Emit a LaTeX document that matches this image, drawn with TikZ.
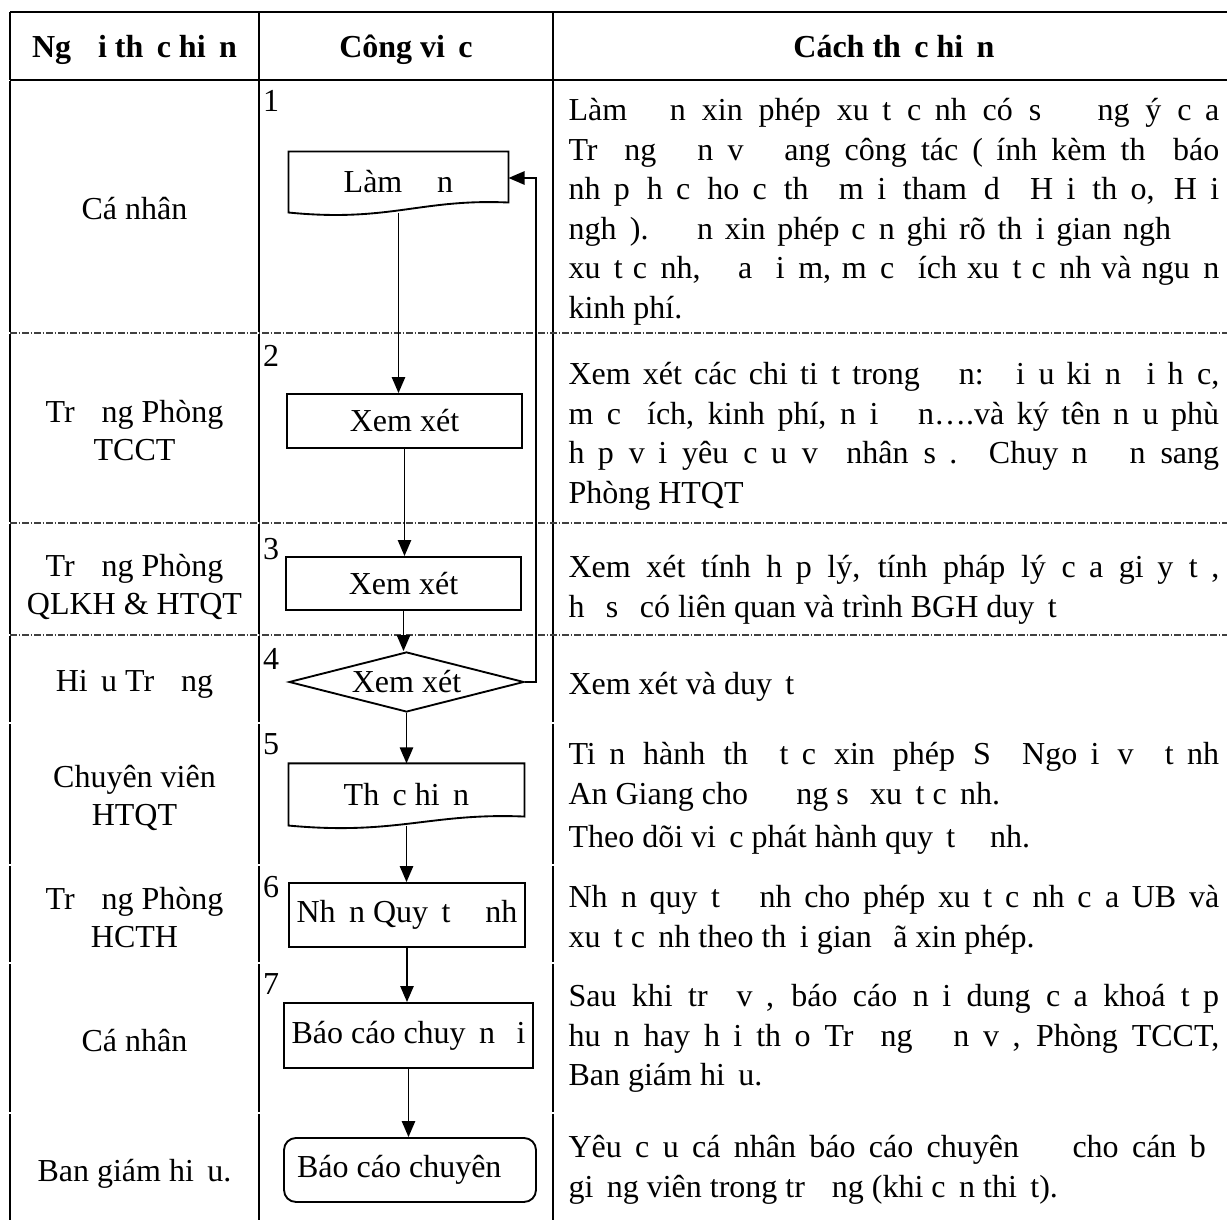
\documentclass[tikz,border=0pt]{standalone}
\usepackage{fontspec}
\setmainfont{Liberation Serif}
\usetikzlibrary{arrows.meta, positioning, calc, shapes.geometric}
\newcommand\miss{\hspace{0.42em}}
\newcommand\jl[2][244pt]{\makebox[#1][s]{\spaceskip=0pt\xspaceskip=0pt #2}}

\begin{document}
\begin{tikzpicture}[x=0.375pt, y=-0.375pt,
  every node/.style={font=\fontsize{12}{14.8}\selectfont},
  hline/.style={line width=1.1pt},
  vline/.style={line width=0.9pt},
  rowsep/.style={line width=0.4pt, black!75, dash pattern=on 2.5pt off 0.7pt on 0.6pt off 0.7pt},
  head/.style={anchor=base, font=\bfseries\fontsize{12}{14}\selectfont},
  who/.style={anchor=base, text width=93pt, align=flush center, inner sep=0, font=\fontsize{12}{14}\selectfont},
  desc/.style={anchor=base west, text width=244pt, align=flush left, inner sep=0},
  numlbl/.style={anchor=base, inner sep=0},
  box/.style={draw, line width=0.7pt, inner sep=0},
  docbox/.style={inner sep=0},
  flow/.style={line width=0.6pt, -{Triangle[length=6pt,width=5pt]}}]
  \useasboundingbox (0,0) rectangle (1227,1221);

  % Header row
  \draw[hline] (10,12) -- (1227,12);
  \draw[hline] (10,80) -- (1227,80);
  \foreach \xx in {10,259,553} {
    \draw[hline] (\xx,12) -- (\xx,80);
  }
  \node[head] (hdA) at (134.5,58) {Ng\miss\miss i th\miss c hi\miss n};
  \node[head] (hdB) at (406,58) {Công vi\miss c};
  \node[head] (hdC) at (894,58) {Cách th\miss c hi\miss n};

  % Column lines and row separators
  \foreach \ya/\yb in {80/333,333/523,523/635,635/723,723/865,865/963,963/1113,1113/1221} {
    \foreach \xx in {10,259,553} {
      \draw[vline] (\xx,\ya+1) -- (\xx,\yb-1);
    }
  }
  \foreach \y in {333,523,635} {
    \draw[rowsep] (10,\y) -- (1227,\y);
  }

  % Who does it
  \node[who] (who1) at (134.5,220) {Cá nhân};
  \node[who] (who2) at (134.5,423) {Tr\miss\miss ng Phòng\\TCCT};
  \node[who] (who3) at (134.5,577) {Tr\miss\miss ng Phòng\\QLKH \& HTQT};
  \node[who] (who4) at (134.5,692) {Hi\miss u Tr\miss\miss ng};
  \node[who] (who5) at (134.5,788) {Chuyên viên\\HTQT};
  \node[who] (who6) at (134.5,910) {Tr\miss\miss ng Phòng\\HCTH};
  \node[who] (who7) at (134.5,1052) {Cá nhân};
  \node[who] (who8) at (134.5,1182) {Ban giám hi\miss u.};

  % Step numbers
  \foreach \n/\y in {1/112,2/367,3/560,4/670,5/755,6/898,7/995} {
    \node[numlbl] (num\n) at (271,\y) {\n};
  }

  % Flow chart
  \node[docbox, minimum width=82.1pt, minimum height=22.5pt] (step1) at (398.5,182) {Làm \miss\miss n};
  \draw[line width=0.7pt] (step1.north west) -- (step1.north east) -- ($(step1.south east)+(0,-10)$)
    .. controls ($(step1.south east)+(-88,-14)$) and ($(step1.south west)+(101,10)$) .. (step1.south west) -- cycle;
  \node[box, minimum width=88.1pt, minimum height=20.25pt] (step2) at (404.5,421) {Xem xét};
  \node[box, minimum width=88.1pt, minimum height=19.9pt] (step3) at (403.5,583.5) {Xem xét};
  \node[box, diamond, aspect=3.9, minimum width=88.1pt, minimum height=22.5pt] (step4) at (406.5,682) {Xem xét};
  \node[docbox, minimum width=88.1pt, minimum height=22.9pt] (step5) at (406.5,794.5) {Th\miss c hi\miss n};
  \draw[line width=0.7pt] (step5.north west) -- (step5.north east) -- ($(step5.south east)+(0,-9)$)
    .. controls ($(step5.south east)+(-94,-13)$) and ($(step5.south west)+(108,10)$) .. (step5.south west) -- cycle;
  \node[box, minimum width=88.5pt, minimum height=24pt] (step6) at (407,915) {Nh\miss n Quy\miss t \miss\miss nh};
  \node[box, minimum width=93.4pt, minimum height=24.4pt] (step7) at (408.5,1035.5) {Báo cáo chuy\miss n \miss i};
  \node[box, rounded corners=4.5pt, minimum width=94.5pt, minimum height=24pt] (step8) at (410,1170) {Báo cáo chuyên \miss\miss};

  % Arrows
  \draw[flow] (step1.south) -- (step1.south |- step2.north);
  \draw[flow] (step2.south) -- (step2.south |- step3.north);
  \draw[flow] (step3.south) -- (step3.south |- step4.north);
  \draw[flow] (step4.south) -- (step4.south |- step5.north);
  \draw[flow] (step5.south) -- (step5.south |- step6.north);
  \draw[flow] (step6.south) -- (step6.south |- step7.north);
  \draw[flow] (step7.south) -- (step7.south |- step8.north);
  \coordinate (fbtop) at (536,178);
  \draw[flow] (step4.east) -| (fbtop) -- (fbtop -| step1.east);

  % How it is done
  \node[desc] (how1) at (568,121) {\jl{Làm \miss\miss n xin phép xu\miss t c\miss nh có s\miss{} \miss\miss ng ý c\miss a}\\
    \jl{Tr\miss\miss ng \miss\miss n v\miss{} \miss ang công tác (\miss ính kèm th\miss{} báo}\\
    \jl{nh\miss p h\miss c ho\miss c th\miss{} m\miss i tham d\miss{} H\miss i th\miss o, H\miss i}\\
    \jl[226pt]{ngh\miss ). \miss\miss n xin phép c\miss n ghi rõ th\miss i gian ngh}\miss\\
    \jl{xu\miss t c\miss nh, \miss\miss a \miss i\miss m, m\miss c \miss ích xu\miss t c\miss nh và ngu\miss n}\\
    kinh phí.};
  \node[desc] (how2) at (568,385) {\jl{Xem xét các chi ti\miss t trong \miss\miss n: \miss i\miss u ki\miss n \miss i h\miss c,}\\
    \jl{m\miss c \miss ích, kinh phí, n\miss i \miss\miss n….và ký tên n\miss u phù}\\
    \jl{h\miss p v\miss i yêu c\miss u v\miss{} nhân s\miss . Chuy\miss n \miss\miss n sang}\\
    Phòng HTQT};
  \node[desc] (how3) at (568,578) {\jl{Xem xét tính h\miss p lý, tính pháp lý c\miss a gi\miss y t\miss ,}\\
    h\miss{} s\miss{} có liên quan và trình BGH duy\miss t};
  \node[desc] (how4) at (568,695) {Xem xét và duy\miss t};
  \node[desc] (how5) at (568,765) {\jl{Ti\miss n hành th\miss{} t\miss c xin phép S\miss{} Ngo\miss i v\miss{} t\miss nh}\\
    An Giang cho \miss\miss\miss ng s\miss{} xu\miss t c\miss nh.\\[1.5pt]
    Theo dõi vi\miss c phát hành quy\miss t \miss\miss nh.};
  \node[desc] (how6) at (568,908) {\jl{Nh\miss n quy\miss t \miss\miss nh cho phép xu\miss t c\miss nh c\miss a UB và}\\
    xu\miss t c\miss nh theo th\miss i gian \miss ã xin phép.};
  \node[desc] (how7) at (568,1007) {\jl{Sau khi tr\miss{} v\miss , báo cáo n\miss i dung c\miss a khoá t\miss p}\\
    \jl{hu\miss n hay h\miss i th\miss o Tr\miss\miss ng \miss\miss n v\miss , Phòng TCCT,}\\
    Ban giám hi\miss u.};
  \node[desc] (how8) at (568,1158) {\jl{Yêu c\miss u cá nhân báo cáo chuyên \miss\miss{} cho cán b\miss}\\
    gi\miss ng viên trong tr\miss\miss ng (khi c\miss n thi\miss t).};
\end{tikzpicture}
\end{document}
